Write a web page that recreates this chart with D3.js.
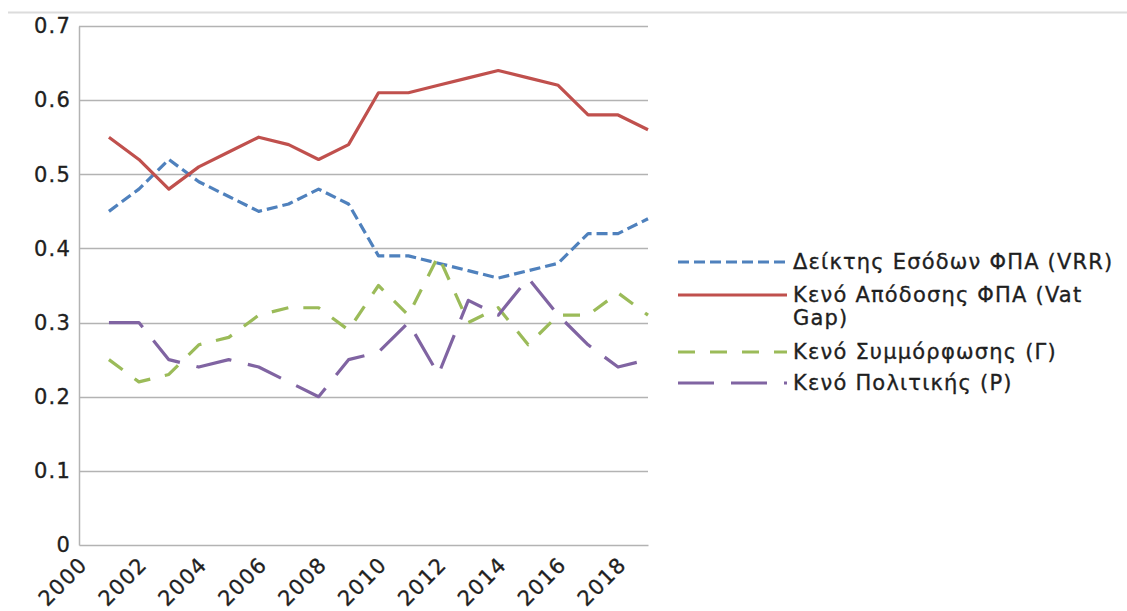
<!DOCTYPE html>
<html>
<head>
<meta charset="utf-8">
<script src="https://cdn.jsdelivr.net/npm/d3@7"></script>
<style>
  html, body { margin: 0; padding: 0; background: #fff; }
  svg { display: block; font-family: "DejaVu Sans", sans-serif; }
  svg text { stroke: #1f1f1f; stroke-width: 0.35px; }
</style>
</head>
<body>
<svg id="chart" width="1127" height="611"></svg>
<script>
// Years of observation
const years = [2001, 2002, 2003, 2004, 2005, 2006, 2007, 2008, 2009, 2010,
               2011, 2012, 2013, 2014, 2015, 2016, 2017, 2018, 2019];

// VAT revenue ratio (VRR)
const vrr = [0.45, 0.48, 0.52, 0.49, 0.47, 0.45, 0.46, 0.48, 0.46, 0.39,
             0.39, 0.38, 0.37, 0.36, 0.37, 0.38, 0.42, 0.42, 0.44];
// VAT gap
const vatGap = [0.55, 0.52, 0.48, 0.51, 0.53, 0.55, 0.54, 0.52, 0.54, 0.61,
                0.61, 0.62, 0.63, 0.64, 0.63, 0.62, 0.58, 0.58, 0.56];
// Compliance gap (Γ)
const complianceGap = [0.25, 0.22, 0.23, 0.27, 0.28, 0.31, 0.32, 0.32, 0.29, 0.35,
                       0.31, 0.39, 0.30, 0.32, 0.27, 0.31, 0.31, 0.34, 0.31];
// Policy gap (P)
const policyGap = [0.30, 0.30, 0.25, 0.24, 0.25, 0.24, 0.22, 0.20, 0.25, 0.26,
                   0.30, 0.23, 0.33, 0.31, 0.36, 0.31, 0.27, 0.24, 0.25];

const xTicks = [2000, 2002, 2004, 2006, 2008, 2010, 2012, 2014, 2016, 2018];
const yTicks = [0, 0.1, 0.2, 0.3, 0.4, 0.5, 0.6, 0.7];

const seriesNames = [
  ["Δείκτης Εσόδων ΦΠΑ (VRR)"],
  ["Κενό Απόδοσης ΦΠΑ (Vat", "Gap)"],
  ["Κενό Συμμόρφωσης (Γ)"],
  ["Κενό Πολιτικής (P)"]
];

const series = [
  { name: seriesNames[0], values: vrr,           color: "#4f81bd", dash: "11,5" },
  { name: seriesNames[1], values: vatGap,        color: "#c0504d", dash: null },
  { name: seriesNames[2], values: complianceGap, color: "#9bbb59", dash: "17,15" },
  { name: seriesNames[3], values: policyGap,     color: "#8064a2", dash: "36,17" }
];

const FONT_SIZE = 21;
const LETTER_SPACING = 1.2;
const TEXT_COLOR = "#1f1f1f";

const svg = d3.select("#chart");
const plot = { left: 79, right: 648, top: 26, bottom: 545 };

const x = d3.scaleLinear().domain([2000, 2019]).range([plot.left, plot.right]);
const y = d3.scaleLinear().domain([0, 0.7]).range([plot.bottom, plot.top]);

// thin rule across the top of the frame
svg.append("line")
  .attr("x1", 8).attr("x2", 1127).attr("y1", 12.5).attr("y2", 12.5)
  .attr("stroke", "#dcdcdc").attr("stroke-width", 2);

// horizontal gridlines
svg.append("g")
  .selectAll("line")
  .data(yTicks.filter(d => d > 0))
  .join("line")
  .attr("x1", plot.left).attr("x2", plot.right)
  .attr("y1", d => Math.round(y(d)) + 0.5).attr("y2", d => Math.round(y(d)) + 0.5)
  .attr("stroke", "#b3b3b3").attr("stroke-width", 1.5);

// y axis
const yAxis = d3.axisLeft(y).tickValues(yTicks).tickSize(0).tickPadding(8)
  .tickFormat(d => d === 0 ? "0" : d3.format(".1f")(d));
const gy = svg.append("g").attr("transform", `translate(${plot.left},0)`).call(yAxis);
gy.select(".domain").attr("stroke", "#b3b3b3").attr("stroke-width", 1.5);
gy.selectAll("text").attr("font-size", FONT_SIZE).attr("fill", TEXT_COLOR)
  .attr("letter-spacing", LETTER_SPACING)
  .attr("font-family", "DejaVu Sans, sans-serif");

// x axis
const xAxis = d3.axisBottom(x).tickValues(xTicks).tickSize(0).tickFormat(d3.format("d"));
const gx = svg.append("g").attr("transform", `translate(0,${plot.bottom})`).call(xAxis);
gx.select(".domain").attr("stroke", "#b3b3b3").attr("stroke-width", 1.5);
gx.selectAll("text")
  .attr("font-size", FONT_SIZE).attr("fill", TEXT_COLOR)
  .attr("letter-spacing", LETTER_SPACING)
  .attr("font-family", "DejaVu Sans, sans-serif")
  .attr("text-anchor", "end")
  .attr("dy", "0")
  .attr("y", 0)
  .attr("transform", "translate(9,21) rotate(-45)");

// series lines
const line = d3.line().x((d, i) => x(years[i])).y(d => y(d));
svg.append("g")
  .selectAll("path")
  .data(series)
  .join("path")
  .attr("d", s => line(s.values))
  .attr("fill", "none")
  .attr("stroke", s => s.color)
  .attr("stroke-width", 3.2)
  .attr("stroke-linejoin", "round")
  .attr("stroke-dasharray", s => s.dash);

// legend
const legendRows = [262, 295, 352, 383];
const legend = svg.append("g");
series.forEach((s, i) => {
  const ly = legendRows[i];
  legend.append("line")
    .attr("x1", 678).attr("x2", 787).attr("y1", ly).attr("y2", ly)
    .attr("stroke", s.color).attr("stroke-width", 3.2)
    .attr("stroke-dasharray", s.dash);
  const t = legend.append("text")
    .attr("x", 793).attr("y", ly)
    .attr("font-size", FONT_SIZE).attr("fill", TEXT_COLOR)
    .attr("letter-spacing", LETTER_SPACING);
  s.name.forEach((part, j) => {
    t.append("tspan").attr("x", 793).attr("dy", j === 0 ? "0.35em" : "23").text(part);
  });
});
</script>
</body>
</html>
